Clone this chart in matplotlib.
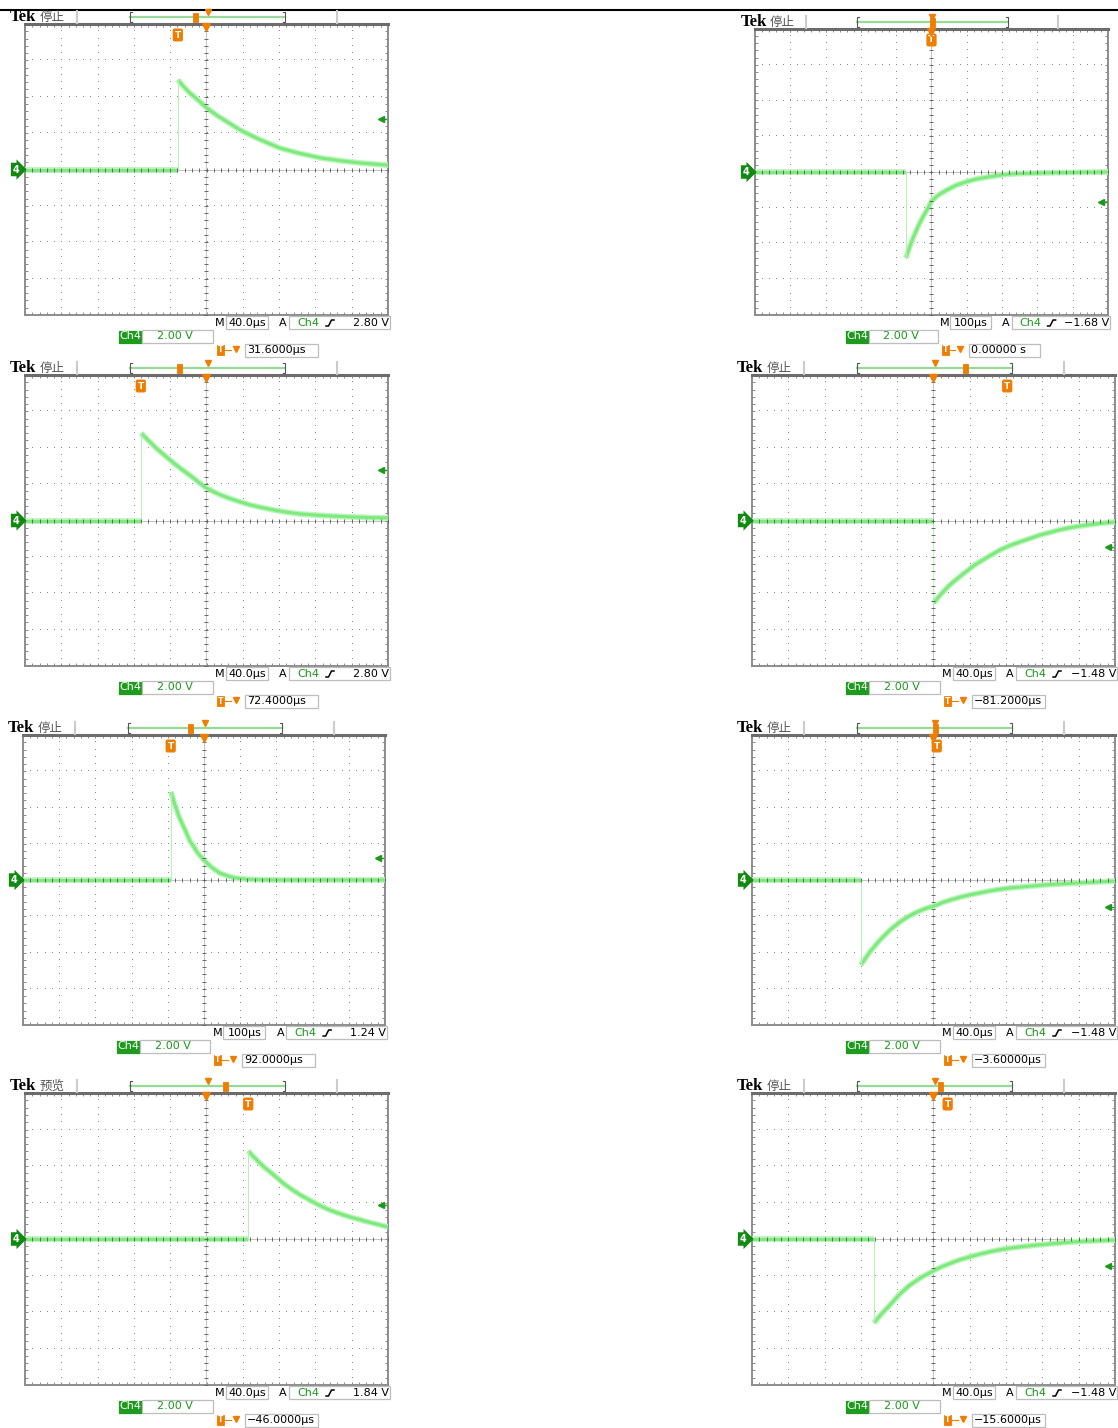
import numpy as np
import matplotlib
matplotlib.use('Agg')
import matplotlib.pyplot as plt
import matplotlib.transforms as mtrans
from matplotlib.patches import Rectangle

W, H = 1118, 1428

# scope settings, panel order: L1 R1 L2 R2 L3 R3 L4 R4
status      = ['停止', '停止', '停止', '停止', '停止', '停止', '预览', '停止']
timebase_us = [40, 100, 40, 40, 100, 40, 40, 40]
timebase_lb = ['40.0µs', '100µs', '40.0µs', '40.0µs',
               '100µs', '40.0µs', '40.0µs', '40.0µs']
trig_volts  = [2.80, -1.68, 2.80, -1.48, 1.24, -1.48, 1.84, -1.48]
trig_lb     = ['2.80 V', '−1.68 V', '2.80 V', '−1.48 V',
               '1.24 V', '−1.48 V', '1.84 V', '−1.48 V']
offset_us   = [31.6, 0.0, 72.4, -81.2, 92.0, -3.6, -46.0, -15.6]
offset_lb   = ['31.6000µs', '0.00000 s', '72.4000µs', '−81.2000µs',
               '92.0000µs', '−3.60000µs', '−46.0000µs', '−15.6000µs']
volts_div   = 2.00
volts_lb    = '2.00 V'

step_t = [-0.79, -0.72, -1.80, 0.0, -0.91, -2.0, 1.15, -1.64]
decay_t = [
    [-0.79, -0.5, -0.2, 0.01, 0.3, 0.6, 0.92, 1.2, 1.5, 2.02, 2.5, 3.13,
     3.7, 4.23, 4.6, 5.0],
    [-0.72, -0.62, -0.52, -0.38, -0.24, -0.1, 0.01, 0.2, 0.44, 0.7, 1.0,
     1.3, 1.66, 2.0, 2.31, 3.0, 3.5, 5.0],
    [-1.80, -1.4, -1.0, -0.7, -0.4, -0.2, 0.0, 0.3, 0.6, 0.9, 1.2, 1.5,
     1.9, 2.2, 2.58, 3.0, 3.3, 3.95, 4.5, 5.0],
    [0.0, 0.2, 0.45, 0.8, 1.14, 1.5, 1.83, 2.1, 2.4, 2.7, 2.93, 3.2, 3.5,
     3.8, 4.04, 4.5, 5.0],
    [-0.91, -0.83, -0.75, -0.68, -0.6, -0.5, -0.39, -0.3, -0.2, -0.1, 0.0,
     0.1, 0.2, 0.32, 0.44, 0.57, 0.7, 0.85, 0.99, 1.2, 1.5, 2.1, 5.0],
    [-2.0, -1.75, -1.48, -1.2, -0.93, -0.7, -0.45, -0.2, 0.04, 0.25, 0.5,
     0.75, 1.0, 1.25, 1.5, 1.8, 2.1, 2.45, 2.8, 3.15, 3.49, 3.85, 4.2,
     4.6, 5.0],
    [1.15, 1.3, 1.45, 1.6, 1.75, 1.95, 2.15, 2.35, 2.58, 2.8, 3.0, 3.2,
     3.4, 3.6, 3.8, 4.0, 4.23, 4.4, 4.6, 4.8, 5.0],
    [-1.64, -1.45, -1.2, -0.95, -0.65, -0.3, 0.04, 0.25, 0.5, 0.75, 1.0,
     1.25, 1.5, 1.8, 2.11, 2.45, 2.8, 3.15, 3.48, 3.85, 4.2, 4.6, 5.0],
]
decay_v = [
    [2.46, 2.14, 1.88, 1.69, 1.48, 1.29, 1.09, 0.95, 0.81, 0.59, 0.46, 0.32,
     0.24, 0.18, 0.15, 0.12],
    [-2.40, -2.10, -1.84, -1.52, -1.25, -1.01, -0.80, -0.64, -0.50, -0.37,
     -0.27, -0.19, -0.13, -0.08, -0.05, -0.03, -0.02, 0.0],
    [2.40, 2.00, 1.66, 1.42, 1.20, 1.04, 0.89, 0.74, 0.62, 0.52, 0.43, 0.36,
     0.28, 0.23, 0.18, 0.15, 0.13, 0.10, 0.08, 0.07],
    [-2.27, -2.03, -1.77, -1.48, -1.22, -1.00, -0.81, -0.69, -0.58, -0.48,
     -0.40, -0.33, -0.25, -0.19, -0.15, -0.09, -0.04],
    [2.43, 2.15, 1.92, 1.72, 1.55, 1.33, 1.08, 0.95, 0.78, 0.66, 0.55, 0.45,
     0.36, 0.27, 0.19, 0.14, 0.10, 0.06, 0.04, 0.02, 0.01, 0.0, 0.0],
    [-2.34, -1.98, -1.66, -1.38, -1.16, -1.01, -0.88, -0.78, -0.71, -0.62,
     -0.54, -0.47, -0.41, -0.36, -0.31, -0.26, -0.22, -0.19, -0.16, -0.13,
     -0.11, -0.09, -0.07, -0.05, -0.03],
    [2.41, 2.25, 2.10, 1.96, 1.84, 1.67, 1.50, 1.36, 1.21, 1.09, 0.98, 0.88,
     0.79, 0.72, 0.65, 0.59, 0.53, 0.48, 0.43, 0.38, 0.33],
    [-2.30, -2.07, -1.81, -1.53, -1.26, -1.03, -0.85, -0.75, -0.65, -0.56,
     -0.49, -0.42, -0.36, -0.30, -0.25, -0.21, -0.17, -0.14, -0.11, -0.08,
     -0.06, -0.045, -0.03],
]

# layout: graticule rectangles in pixels (x0, y0, x1, y1)
rects = [
    (25, 24, 388, 315), (755, 29, 1108, 315),
    (25, 375, 388, 666), (752, 375, 1115, 666),
    (23, 735, 385, 1025), (752, 735, 1115, 1025),
    (25, 1093, 388, 1385), (752, 1093, 1115, 1385),
]

ORANGE = '#F07D00'
GREEN = '#1A9A1A'
TRACE = '#7EEA7E'
HALO = '#BDF5BD'
GRID = '#8a8a8a'

fig = plt.figure(figsize=(W / 100, H / 100), dpi=100)


def graticule(ax):
    ax.set_xlim(-5, 5)
    ax.set_ylim(-4, 4)
    dots_y = np.arange(-4, 4.01, 0.2)
    dots_x = np.arange(-5, 5.01, 0.2)
    for gx in range(-4, 5):
        if gx != 0:
            ax.plot(np.full_like(dots_y, gx), dots_y, ',', color=GRID, zorder=1)
    for gy in range(-3, 4):
        if gy != 0:
            ax.plot(dots_x, np.full_like(dots_x, gy), ',', color=GRID, zorder=1)
    ax.axhline(0, color='#aaaaaa', lw=0.5, zorder=1)
    ax.axvline(0, color='#aaaaaa', lw=0.5, zorder=1)
    ax.plot(dots_x, np.zeros_like(dots_x), '|', ms=3.5, mew=0.7,
            color='#666666', zorder=5)
    ax.plot(np.zeros_like(dots_y), dots_y, '_', ms=3.5, mew=0.7,
            color='#666666', zorder=5)
    ax.set_xticks(np.arange(-5, 5.01, 0.2))
    ax.set_yticks(np.arange(-4, 4.01, 0.2))
    ax.tick_params(direction='in', length=2.5, width=0.6, colors='#777777',
                   top=True, right=True, labelbottom=False, labelleft=False)
    for sp in ax.spines.values():
        sp.set_edgecolor('#8c8c8c')
        sp.set_linewidth(1.4)
    ax.spines['top'].set_edgecolor('#6c6c6c')
    ax.spines['top'].set_linewidth(2.2)


def box(ov, xa, xb, ya, yb, fc='white', ec='#bdbdbd'):
    ov.add_patch(Rectangle((xa, ya), xb - xa, yb - ya, fc=fc, ec=ec, lw=0.9))


def tmarker(ov, x, y, w, h):
    ov.add_patch(Rectangle((x - w / 2, y - h / 2), w, h, fc=ORANGE,
                           ec=ORANGE, lw=0.6, zorder=6, joinstyle='round'))


for i, (x0, y0, x1, y1) in enumerate(rects):
    ax = fig.add_axes([x0 / W, 1 - y1 / H, (x1 - x0) / W, (y1 - y0) / H])
    graticule(ax)

    # waveform
    st = step_t[i]
    for lw, c in [(4.2, HALO), (2.2, TRACE)]:
        ax.plot([-5, st], [0, 0], color=c, lw=lw, solid_capstyle='butt', zorder=3)
        ax.plot(decay_t[i], decay_v[i], color=c, lw=lw,
                solid_capstyle='butt', solid_joinstyle='round', zorder=3)
    ax.plot([st, st], [0, decay_v[i][0]], color='#B8F0B8', lw=0.8, zorder=3)

    # trigger position marker, horizontal position marker, trigger level
    trig_div = -offset_us[i] / timebase_us[i]
    ax.annotate('T', xy=(trig_div, 4), xytext=(0, -11),
                textcoords='offset pixels', ha='center', va='center',
                color='white', fontsize=6.5, fontweight='bold',
                bbox=dict(boxstyle='round,pad=0.22', fc=ORANGE, ec='none'),
                annotation_clip=False, zorder=7)
    ax.plot([0], [4], marker='v', ms=6, color=ORANGE, clip_on=False, zorder=8,
            transform=ax.transData + mtrans.ScaledTranslation(
                0, -3 / 100, fig.dpi_scale_trans))
    lv = trig_volts[i] / volts_div
    ax.plot([4.8], [lv], marker='<', ms=4.5, color=GREEN, zorder=7)
    ax.plot([4.8, 4.95], [lv, lv], color=GREEN, lw=1, zorder=7)
    # ground reference
    ax.annotate('4', xy=(-5, 0), xytext=(-9, 0), textcoords='offset pixels',
                ha='center', va='center', color='white', fontsize=7,
                fontweight='bold',
                bbox=dict(boxstyle='rarrow,pad=0.18', fc='#118A11', ec='none'),
                annotation_clip=False, zorder=9)

# overlay for the readouts
ov = fig.add_axes([0, 0, 1, 1])
ov.set_zorder(10)
ov.set_xlim(0, W)
ov.set_ylim(H, 0)
ov.axis('off')
ov.plot([0, W], [10, 10], color='black', lw=1.5)

txt = dict(fontsize=8, family='DejaVu Sans', va='center')

for i, (x0, y0, x1, y1) in enumerate(rects):
    s = (x1 - x0) / 363.0
    X = lambda d: x0 + d * s

    # header
    hy = y0 - 7
    ov.text(X(-15), hy, 'Tek', fontsize=12, family='Liberation Serif',
            fontweight='bold', va='center', ha='left')
    ov.text(X(15), hy, status[i], fontsize=9, family='Noto Sans CJK SC',
            color='#555555', va='center', ha='left')
    for gx in (52, 312):
        ov.plot([X(gx), X(gx)], [y0 - 13, y0 - 1], color='#cccccc', lw=1.5)
    bl, br = X(105), X(260)
    ov.plot([bl, br], [hy, hy], color='#96DA96', lw=1.6)
    for bx, d in ((bl, 2), (br, -2)):
        ov.plot([bx + d, bx, bx, bx + d], [y0 - 12, y0 - 12, y0 - 2, y0 - 2],
                color='#555555', lw=0.8)
    bc = (bl + br) / 2
    ov.plot([bc], [y0 - 12], marker='v', ms=4, color=ORANGE)
    trig_div = -offset_us[i] / timebase_us[i]
    tmarker(ov, bc + trig_div * 15.5 * s, hy, 5, 9)

    # row 1: timebase and trigger
    r1 = y1 + 8
    ov.text(X(195), r1, 'M', ha='center', **txt)
    box(ov, X(201), X(243), y1 + 1, y1 + 14)
    ov.text((X(201) + X(243)) / 2, r1, timebase_lb[i], ha='center', **txt)
    ov.text(X(258), r1, 'A', ha='center', **txt)
    box(ov, X(264), X(365), y1 + 1, y1 + 14)
    ov.text(X(272), r1, 'Ch4', ha='left', color=GREEN, **txt)
    ex = X(305)
    ov.plot([ex - 4, ex - 1.5, ex + 1.5, ex + 4],
            [r1 + 3, r1 + 3, r1 - 3, r1 - 3], color='black', lw=1.1)
    ov.text(X(364), r1, trig_lb[i], ha='right', **txt)

    # row 2: channel scale
    r2 = y1 + 21
    box(ov, X(94), X(117), y1 + 16, y1 + 28, fc='#1E9A1E', ec='#1E9A1E')
    ov.text((X(94) + X(117)) / 2, r2, 'Ch4', ha='center', color='white', **txt)
    box(ov, X(117), X(188), y1 + 15, y1 + 28)
    ov.text(X(150), r2, volts_lb, ha='center', color=GREEN, **txt)

    # row 3: trigger offset
    r3 = y1 + 35
    tmarker(ov, X(195.5), r3, 7, 10)
    ov.text(X(195.5), r3, 'T', ha='center', va='center', color='white',
            fontsize=5.5, fontweight='bold', zorder=7)
    ov.plot([X(200), X(206)], [r3, r3], color=ORANGE, lw=0.8)
    ov.plot([X(211)], [r3 - 1], marker='v', ms=4.5, color=ORANGE)
    box(ov, X(220), X(293), y1 + 29, y1 + 42)
    ov.text(X(222), r3, offset_lb[i], ha='left', **txt)

fig.savefig('out.png', dpi=100)
